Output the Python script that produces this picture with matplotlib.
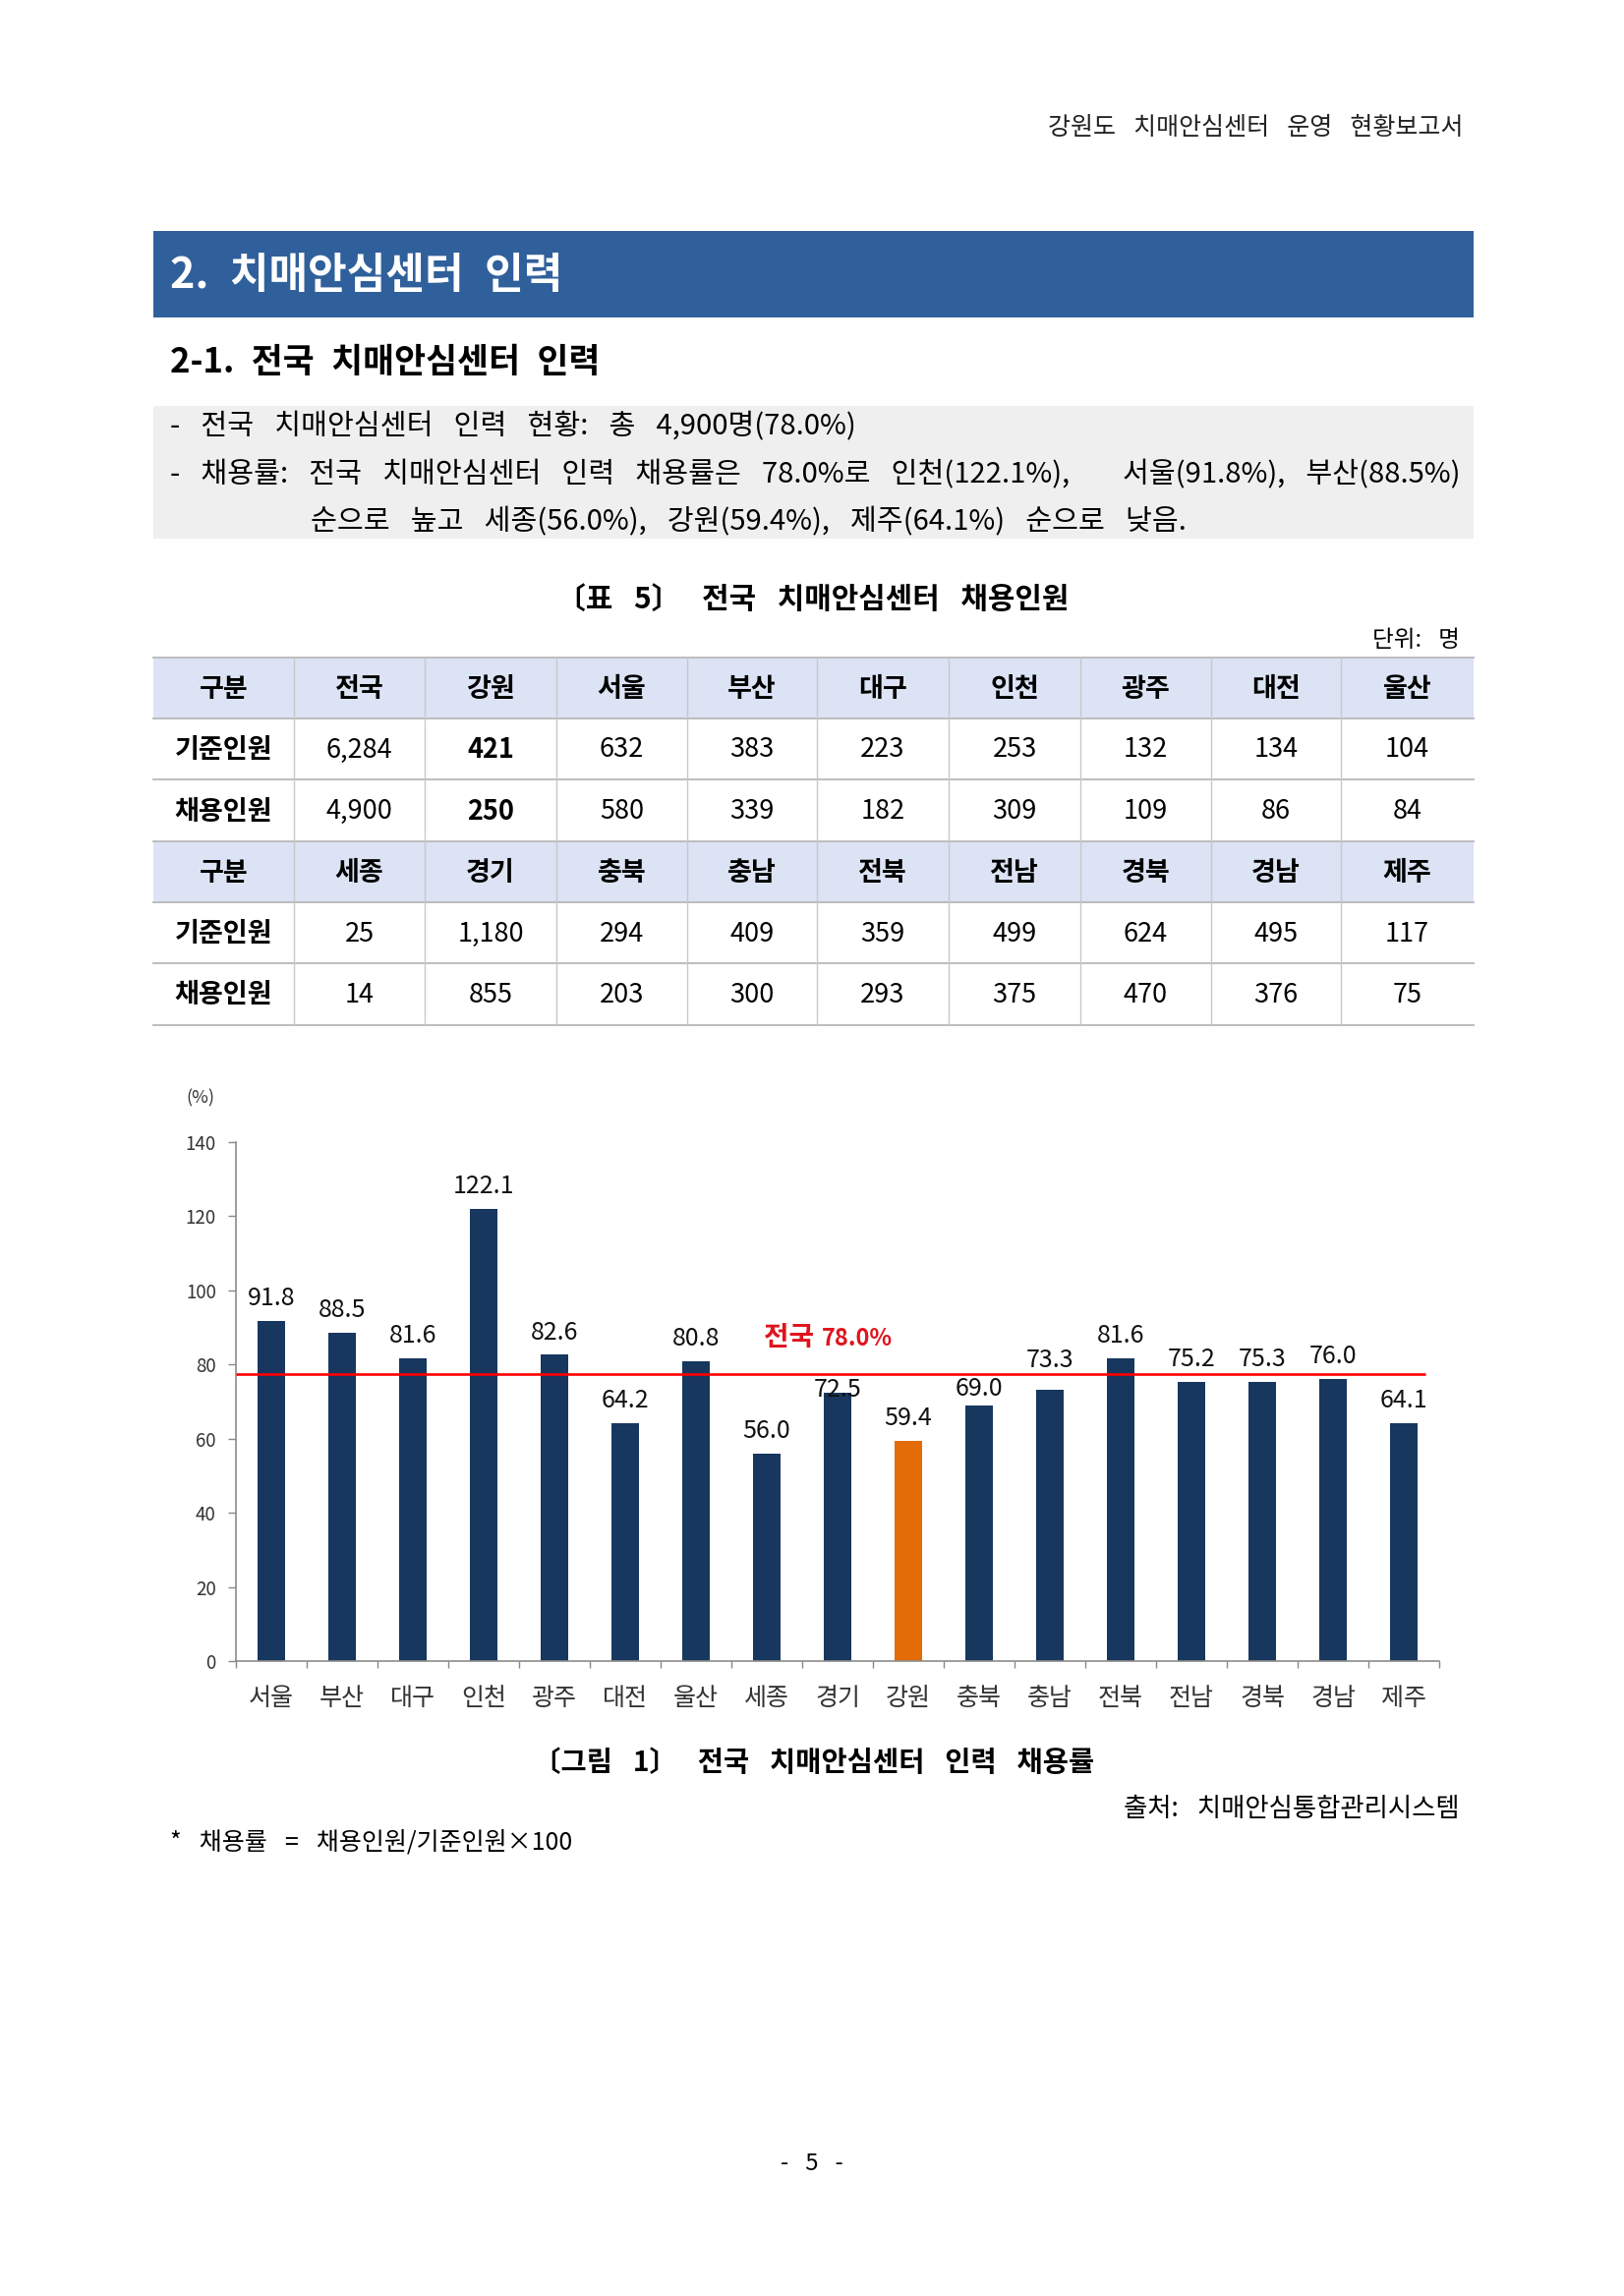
import matplotlib
matplotlib.use('Agg')
from matplotlib import pyplot as plt
from matplotlib.patches import Rectangle
import numpy as np

plt.rcParams['font.family'] = ['Noto Sans CJK KR', 'DejaVu Sans']

# table data
regions_a = ['전국', '강원', '서울', '부산', '대구', '인천', '광주', '대전', '울산']
base_a = ['6,284', '421', '632', '383', '223', '253', '132', '134', '104']
hired_a = ['4,900', '250', '580', '339', '182', '309', '109', '86', '84']
regions_b = ['세종', '경기', '충북', '충남', '전북', '전남', '경북', '경남', '제주']
base_b = ['25', '1,180', '294', '409', '359', '499', '624', '495', '117']
hired_b = ['14', '855', '203', '300', '293', '375', '470', '376', '75']

# chart data
chart_regions = ['서울', '부산', '대구', '인천', '광주', '대전', '울산', '세종', '경기',
                 '강원', '충북', '충남', '전북', '전남', '경북', '경남', '제주']
rates = [91.8, 88.5, 81.6, 122.1, 82.6, 64.2, 80.8, 56.0, 72.5,
         59.4, 69.0, 73.3, 81.6, 75.2, 75.3, 76.0, 64.1]
national = 78.0
national_line = 77.3   # where the red line sits in the original picture


def wide(s, sep='\u2002 '):
    # the document uses wide word spacing
    return s.replace(' ', sep)


W, H = 1652, 2336
fig = plt.figure(figsize=(W / 100, H / 100), dpi=100)

# page axes in pixel units
page = fig.add_axes([0, 0, 1, 1])
page.set_xlim(0, W)
page.set_ylim(H, 0)
page.axis('off')

# running header
page.text(1488, 130, wide('강원도 치매안심센터 운영 현황보고서'), ha='right', va='center',
          fontsize=18, color='#222222')

# section band
page.add_patch(Rectangle((156, 235), 1343, 88, color='#30609b', lw=0))
page.text(173, 280, wide('2. 치매안심센터 인력', '\u2002'), ha='left', va='center',
          fontsize=31, fontweight='bold', color='white')

page.text(173, 369, wide('2-1. 전국 치매안심센터 인력', '\u2002'), ha='left', va='center',
          fontsize=25, fontweight='bold', color='black')

# summary box
page.add_patch(Rectangle((156, 413), 1343, 135, color='#efefef', lw=0))
page.text(173, 434, wide('- 전국 치매안심센터 인력 현황: 총 4,900명(78.0%)'),
          ha='left', va='center', fontsize=21)
page.text(173, 483, wide('- 채용률: 전국 치매안심센터 인력 채용률은 78.0%로 인천(122.1%),'),
          ha='left', va='center', fontsize=21)
page.text(1485, 483, wide('서울(91.8%), 부산(88.5%)'), ha='right', va='center', fontsize=21)
page.text(316, 531, wide('순으로 높고 세종(56.0%), 강원(59.4%), 제주(64.1%) 순으로 낮음.'),
          ha='left', va='center', fontsize=21)

# table
page.text(827, 610, wide('〔표 5〕 전국 치매안심센터 채용인원'), ha='center', va='center',
          fontsize=21.5, fontweight='bold')
page.text(1485, 652, wide('단위: 명'), ha='right', va='center', fontsize=17)

col_edges = [156, 299, 432, 566, 699, 831, 965, 1099, 1232, 1364, 1499]
row_edges = [669, 731, 793, 856, 918, 980, 1043]
blocks = [(regions_a, base_a, hired_a), (regions_b, base_b, hired_b)]
for b, (regs, base, hired) in enumerate(blocks):
    r0 = b * 3
    page.add_patch(Rectangle((col_edges[0], row_edges[r0]), col_edges[-1] - col_edges[0],
                             row_edges[r0 + 1] - row_edges[r0], color='#dbe3f4', lw=0))
    rows = [['구분'] + regs, ['기준인원'] + base, ['채용인원'] + hired]
    for r, row in enumerate(rows):
        yc = (row_edges[r0 + r] + row_edges[r0 + r + 1]) / 2 + 1
        for c, val in enumerate(row):
            xc = (col_edges[c] + col_edges[c + 1]) / 2
            bold = r == 0 or c == 0 or (b == 0 and c == 2)
            page.text(xc, yc, val, ha='center', va='center', fontsize=19.5,
                      fontweight='bold' if bold else 'normal')
for y in row_edges:
    page.plot([col_edges[0], col_edges[-1]], [y, y], color='#b8b8b8', lw=1.3)
for x in col_edges[1:-1]:
    page.plot([x, x], [row_edges[0], row_edges[-1]], color='#c8c8c8', lw=1.0)

# chart
ax = fig.add_axes([240 / W, 1 - 1690 / H, 1224 / W, 528 / H])
x = np.arange(len(chart_regions))
colors = ['#e36c09' if r == '강원' else '#17375e' for r in chart_regions]
ax.bar(x, rates, width=0.39, color=colors, zorder=2)
ax.set_xlim(-0.5, len(chart_regions) - 0.5)
ax.set_ylim(0, 140)
ax.set_yticks(np.arange(0, 141, 20))
ax.tick_params(axis='y', direction='out', length=5.5, width=1, color='#888888',
               labelsize=13.5, labelcolor='#333333', pad=9)
ax.set_xticks(np.arange(len(chart_regions) + 1) - 0.5)
ax.set_xticklabels([])
ax.tick_params(axis='x', which='major', direction='out', length=5, width=1, color='#888888')
ax.set_xticks(x, minor=True)
ax.set_xticklabels(chart_regions, minor=True)
ax.tick_params(axis='x', which='minor', length=0, labelsize=18, labelcolor='#333333', pad=18)
for s in ['top', 'right']:
    ax.spines[s].set_visible(False)
for s in ['left', 'bottom']:
    ax.spines[s].set_color('#8c8c8c')
    ax.spines[s].set_linewidth(1.2)
ax.patch.set_alpha(0)

# value labels (a few were nudged by hand in the original)
gaps = {'경기': 2, '충북': 12, '충남': 21}
for i, (reg, v) in enumerate(zip(chart_regions, rates)):
    ax.annotate(f'{v:.1f}', (i, v), xytext=(0, gaps.get(reg, 16.5)),
                textcoords='offset points', ha='center', va='center',
                fontsize=18, color='#111111', zorder=3)

ax.hlines(national_line, -0.5, 16.3, color='#ff0000', lw=1.9, zorder=4)
ax.text(7.67, 85.2, '전국', ha='right', va='baseline', fontsize=20,
        fontweight='bold', color='#e0141e')
ax.text(7.78, 85.2, f'{national:.1f}%', ha='left', va='baseline', fontsize=17,
        fontweight='bold', color='#e0141e')

page.text(204, 1117, '(%)', ha='center', va='center', fontsize=13, color='#333333')

# captions
page.text(828, 1794, wide('〔그림 1〕 전국 치매안심센터 인력 채용률'), ha='center', va='center',
          fontsize=20.5, fontweight='bold')
page.text(1485, 1841, wide('출처: 치매안심통합관리시스템'), ha='right', va='center', fontsize=19)
page.text(173, 1874, wide('* 채용률 = 채용인원/기준인원×100'), ha='left', va='center', fontsize=18)

page.text(826, 2202, wide('- 5 -'), ha='center', va='center', fontsize=17)

fig.savefig('out.png', dpi=100)
